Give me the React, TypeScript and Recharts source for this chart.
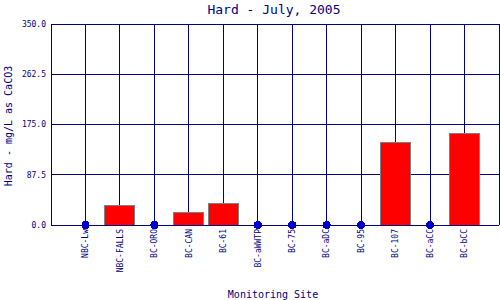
import { ComposedChart, Bar, Line, XAxis, YAxis, CartesianGrid, ReferenceLine } from 'recharts';

const sites = ['NBC-Lw', 'NBC-FALLS', 'BC-ORO', 'BC-CAN', 'BC-61', 'BC-aWWTP', 'BC-75', 'BC-aDC', 'BC-95', 'BC-107', 'BC-aCC', 'BC-bCC'];
const hardness = [null, 34.3, null, 22.1, 37.8, null, null, null, null, 144.5, null, 158.5];
const yTicks = [0, 87.5, 175, 262.5, 350];

const data = sites.map((site, i) => ({
	pos: i + 1,
	site,
	hard: hardness[i],
	missing: hardness[i] === null ? 0 : null,
}));

const navy = '#000080';
const mono = '"DejaVu Sans Mono", monospace';

const SiteTick = ({ x, y, payload }: any) => (
	<text
		x={x}
		y={y}
		transform={`rotate(-90, ${x}, ${y})`}
		textAnchor="end"
		dy="0.35em"
		fontSize={8}
		fontFamily={mono}
		fill={navy}
	>
		{sites[payload.value - 1]}
	</text>
);

export default function App() {
	return (
		<div
			style={{
				position: 'absolute',
				left: 0,
				top: 0,
				width: 500,
				height: 300,
				background: '#fff',
				overflow: 'hidden',
				shapeRendering: 'crispEdges',
			}}
		>
			<ComposedChart
				width={500}
				height={300}
				data={data}
				margin={{ top: 24, right: 1, left: 0, bottom: 0 }}
			>
				<CartesianGrid stroke={navy} strokeWidth={1} />
				<XAxis
					type="number"
					dataKey="pos"
					domain={[0, 13]}
					ticks={sites.map((_, i) => i + 1)}
					interval={0}
					height={75}
					tickLine={false}
					tickSize={0}
					tickMargin={4}
					axisLine={{ stroke: navy }}
					tick={<SiteTick />}
				/>
				<YAxis
					domain={[0, 350]}
					ticks={yTicks}
					width={51}
					tickLine={false}
					tickSize={0}
					tickMargin={5}
					axisLine={{ stroke: navy }}
					tickFormatter={(v: number) => v.toFixed(1)}
					tick={{ fontSize: 8, fontFamily: mono, fill: navy }}
				/>
				<ReferenceLine x={13} stroke={navy} />
				<Bar dataKey="hard" barSize={30} fill="#FF0000" stroke="#808080" strokeWidth={1} isAnimationActive={false} />
				<Line
					dataKey="missing"
					stroke="none"
					dot={{ r: 3.5, fill: '#0000CC', stroke: '#0000CC', strokeWidth: 1 }}
					activeDot={false}
					isAnimationActive={false}
				/>
			</ComposedChart>
			<svg width={500} height={300} style={{ position: 'absolute', left: 0, top: 0, pointerEvents: 'none' }}>
				<text x={274} y={14} textAnchor="middle" fontSize={13} fontFamily={mono} fill={navy}>
					Hard - July, 2005
				</text>
				<text
					x={8}
					y={126}
					transform="rotate(-90, 8, 126)"
					textAnchor="middle"
					dy="0.35em"
					fontSize={10}
					fontFamily={mono}
					fill={navy}
				>
					Hard - mg/L as CaCO3
				</text>
				<text x={273} y={298} textAnchor="middle" fontSize={10} fontFamily={mono} fill={navy}>
					Monitoring Site
				</text>
			</svg>
		</div>
	);
}
